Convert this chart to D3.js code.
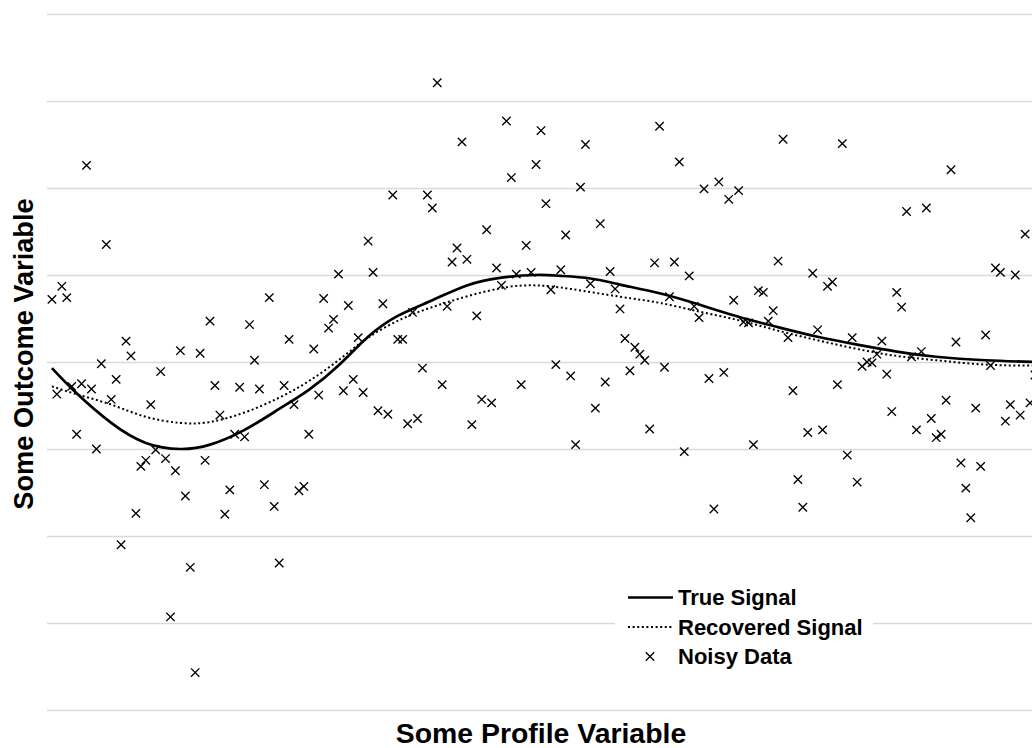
<!DOCTYPE html>
<html>
<head>
<meta charset="utf-8">
<script src="https://cdn.jsdelivr.net/npm/d3@7"></script>
<style>
  body { margin: 0; background: #fff; }
  text { font-family: 'Liberation Sans', Arial, sans-serif; font-weight: bold; fill: #000; }
</style>
</head>
<body>
<script>
// noisy observations [profile, outcome]
const noisyData = [
  [0.5,0.72],[1,-0.37],[1.5,0.87],[2,0.74],[2.5,-0.28],[3,-0.83],[3.5,-0.25],[4,2.26],[4.5,-0.31],[5,-1.00],
  [5.5,-0.02],[6,1.35],[6.5,-0.43],[7,-0.20],[7.5,-2.10],[8,0.24],[8.5,0.07],[9,-1.74],[9.5,-1.20],[10,-1.13],
  [10.5,-0.49],[11,-1.01],[11.5,-0.11],[12,-1.11],[12.5,-2.93],[13,-1.25],[13.5,0.13],[14,-1.54],[14.5,-2.36],[15,-3.57],
  [15.5,0.10],[16,-1.13],[16.5,0.47],[17,-0.27],[17.5,-0.61],[18,-1.75],[18.5,-1.47],[19,-0.83],[19.5,-0.29],[20,-0.86],
  [20.5,0.43],[21,0.02],[21.5,-0.31],[22,-1.41],[22.5,0.74],[23,-1.66],[23.5,-2.31],[24,-0.27],[24.5,0.26],[25,-0.49],
  [25.5,-1.48],[26,-1.43],[26.5,-0.83],[27,0.15],[27.5,-0.38],[28,0.73],[28.5,0.39],[29,0.49],[29.5,1.01],[30,-0.33],
  [30.5,0.65],[31,-0.20],[31.5,0.28],[32,-0.35],[32.5,1.39],[33,1.03],[33.5,-0.56],[34,0.67],[34.5,-0.60],[35,1.92],
  [35.5,0.26],[36,0.26],[36.5,-0.71],[37,0.57],[37.5,-0.65],[38,-0.07],[38.5,1.92],[39,1.77],[39.5,3.21],[40,-0.26],
  [40.5,0.64],[41,1.15],[41.5,1.31],[42,2.53],[42.5,1.18],[43,-0.72],[43.5,0.53],[44,-0.43],[44.5,1.52],[45,-0.47],
  [45.5,1.08],[46,0.88],[46.5,2.77],[47,2.12],[47.5,1.01],[48,-0.26],[48.5,1.34],[49,1.03],[49.5,2.27],[50,2.66],
  [50.5,1.82],[51,0.83],[51.5,-0.03],[52,1.06],[52.5,1.46],[53,-0.16],[53.5,-0.95],[54,2.01],[54.5,2.50],[55,0.90],
  [55.5,-0.53],[56,1.59],[56.5,-0.23],[57,1.04],[57.5,0.84],[58,0.61],[58.5,0.27],[59,-0.10],[59.5,0.17],[60,0.09],
  [60.5,0.02],[61,-0.77],[61.5,1.14],[62,2.71],[62.5,-0.06],[63,0.75],[63.5,1.15],[64,2.30],[64.5,-1.03],[65,0.99],
  [65.5,0.64],[66,0.51],[66.5,1.99],[67,-0.19],[67.5,-1.69],[68,2.07],[68.5,-0.12],[69,1.87],[69.5,0.71],[70,1.97],
  [70.5,0.46],[71,0.45],[71.5,-0.95],[72,0.82],[72.5,0.80],[73,0.47],[73.5,0.59],[74,1.16],[74.5,2.56],[75,0.28],
  [75.5,-0.33],[76,-1.35],[76.5,-1.67],[77,-0.81],[77.5,1.02],[78,0.37],[78.5,-0.78],[79,0.87],[79.5,0.92],[80,-0.26],
  [80.5,2.51],[81,-1.07],[81.5,0.28],[82,-1.38],[82.5,-0.05],[83,0.00],[83.5,-0.01],[84,0.09],[84.5,0.24],[85,-0.14],
  [85.5,-0.57],[86,0.80],[86.5,0.63],[87,1.73],[87.5,0.06],[88,-0.78],[88.5,0.12],[89,1.77],[89.5,-0.65],[90,-0.87],
  [90.5,-0.83],[91,-0.44],[91.5,2.21],[92,0.23],[92.5,-1.16],[93,-1.45],[93.5,-1.79],[94,-0.53],[94.5,-1.20],[95,0.31],
  [95.5,-0.04],[96,1.08],[96.5,1.03],[97,-0.68],[97.5,-0.49],[98,1.00],[98.5,-0.61],[99,1.47],[99.5,-0.47],[100,-0.15]
]

// true signal
const trueSignal = [
  [0.5,-0.07],[3,-0.36],[6.5,-0.70],[10,-0.93],[13.5,-1.00],[16.5,-0.95],[20,-0.78],[23.5,-0.54],[26.5,-0.32],
  [29.5,-0.04],[32.5,0.29],[35.5,0.53],[39,0.71],[42.5,0.88],[46,0.97],[49.5,1.00],[52,0.99],[55,0.96],[58,0.89],
  [62,0.79],[66,0.66],[70,0.52],[74,0.40],[78,0.29],[82,0.20],[86,0.12],[90,0.06],[95,0.02],[100,0.00]
]

// recovered signal
const recoveredSignal = [
  [0.5,-0.28],[3,-0.37],[6.5,-0.49],[10,-0.63],[13.5,-0.70],[16.5,-0.69],[20,-0.58],[23.5,-0.41],[26.5,-0.22],
  [29.5,0.02],[32.5,0.28],[36,0.50],[39.5,0.65],[43,0.77],[46.5,0.86],[49.5,0.88],[53,0.84],[58,0.75],
  [62,0.68],[66,0.58],[70,0.48],[74,0.36],[78,0.25],[82,0.15],[86,0.07],[90,0.02],[95,-0.03],[100,-0.04]
]

const yTicks = [-4, -3, -2, -1, 0, 1, 2, 3, 4]
const legendLabels = ['True Signal', 'Recovered Signal', 'Noisy Data']
const xTitle = 'Some Profile Variable'
const yTitle = 'Some Outcome Variable'

const WIDTH = 1032
const HEIGHT = 748
const margin = { left: 47, right: 1035, top: 14, bottom: 710 }

const x = d3.scaleLinear().domain([0, 100]).range([margin.left, margin.right])
const y = d3.scaleLinear().domain([-4, 4]).range([margin.bottom, margin.top])

const svg = d3.select(document.body).append('svg')
  .attr('width', WIDTH)
  .attr('height', HEIGHT)

svg.append('rect').attr('width', WIDTH).attr('height', HEIGHT).attr('fill', '#fff')

// horizontal gridlines
const grid = svg.append('g')
  .attr('transform', `translate(${margin.left},0)`)
  .call(d3.axisLeft(y).tickValues(yTicks).tickSize(-(margin.right - margin.left)).tickFormat(''))
grid.select('.domain').remove()
grid.selectAll('line').attr('stroke', '#d9d9d9').attr('stroke-width', 1.3)

// noisy data crosses
const cross = s => `M${-s},${-s}L${s},${s}M${-s},${s}L${s},${-s}`
svg.append('g').selectAll('path')
  .data(noisyData)
  .enter()
  .append('path')
  .attr('transform', d => `translate(${x(d[0])},${y(d[1])})`)
  .attr('d', cross(4.2))
  .attr('stroke', '#000')
  .attr('stroke-width', 1.35)
  .attr('fill', 'none')

const line = d3.line()
  .x(d => x(d[0]))
  .y(d => y(d[1]))
  .curve(d3.curveNatural)

svg.append('path')
  .attr('d', line(recoveredSignal))
  .attr('fill', 'none')
  .attr('stroke', '#000')
  .attr('stroke-width', 2)
  .attr('stroke-dasharray', '2,2.6')

svg.append('path')
  .attr('d', line(trueSignal))
  .attr('fill', 'none')
  .attr('stroke', '#000')
  .attr('stroke-width', 2.7)

// legend
const legend = svg.append('g')
legend.append('rect')
  .attr('x', 615).attr('y', 582).attr('width', 258).attr('height', 90)
  .attr('fill', '#fff')
const rowY = [597.5, 627, 656.5]
legendLabels.forEach((label, i) => {
  const g = legend.append('g').attr('transform', `translate(0,${rowY[i]})`)
  if (i === 0) {
    g.append('line').attr('x1', 628).attr('x2', 673)
      .attr('stroke', '#000').attr('stroke-width', 2.7)
  } else if (i === 1) {
    g.append('line').attr('x1', 628).attr('x2', 673)
      .attr('stroke', '#000').attr('stroke-width', 2).attr('stroke-dasharray', '2,2.6')
  } else {
    g.append('path').attr('transform', 'translate(650,0)').attr('d', cross(4.2))
      .attr('stroke', '#000').attr('stroke-width', 1.35)
  }
  g.append('text')
    .attr('x', 678)
    .attr('y', 7.8)
    .attr('font-size', 22)
    .text(label)
})

// axis titles
svg.append('text')
  .attr('x', (margin.left + margin.right) / 2)
  .attr('y', 743)
  .attr('text-anchor', 'middle')
  .attr('font-size', 28.4)
  .text(xTitle)

svg.append('text')
  .attr('transform', 'translate(33,354) rotate(-90)')
  .attr('text-anchor', 'middle')
  .attr('font-size', 27.2)
  .text(yTitle)
</script>
</body>
</html>
